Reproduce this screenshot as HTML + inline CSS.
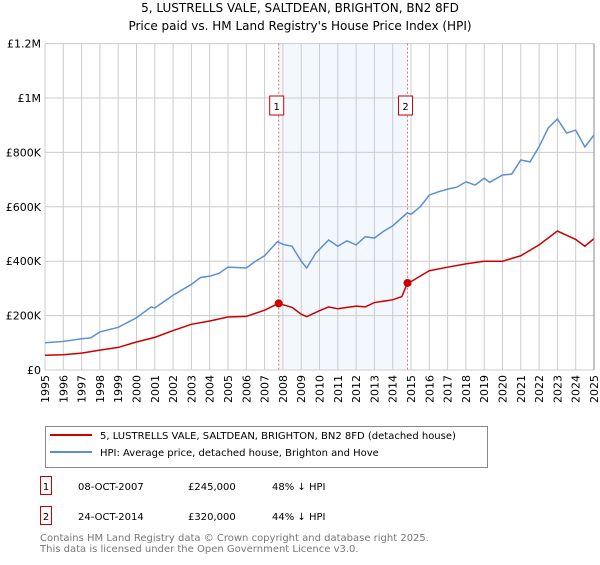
<!DOCTYPE html>
<html><head><meta charset="utf-8"><style>
body{margin:0;background:#fff;font-family:"Liberation Sans","DejaVu Sans",sans-serif;}
svg text{font-family:"DejaVu Sans","Liberation Sans",sans-serif;}
</style></head><body>
<svg id="c" width="600" height="560" xmlns="http://www.w3.org/2000/svg">
<text x="300" y="12" text-anchor="middle" font-size="12">5, LUSTRELLS VALE, SALTDEAN, BRIGHTON, BN2 8FD</text>
<text x="300" y="30" text-anchor="middle" font-size="12">Price paid vs. HM Land Registry's House Price Index (HPI)</text>
<g id="plot"></g>
<g>
<rect x="45.5" y="426.5" width="442" height="41" fill="#fff" stroke="#888"/>
<line x1="50" y1="435" x2="92" y2="435" stroke="#cc0000" stroke-width="2"/>
<text x="100" y="439" font-size="10">5, LUSTRELLS VALE, SALTDEAN, BRIGHTON, BN2 8FD (detached house)</text>
<line x1="50" y1="452" x2="92" y2="452" stroke="#5b8fd4" stroke-width="2"/>
<text x="100" y="456" font-size="10">HPI: Average price, detached house, Brighton and Hove</text>
</g>
<g font-size="10">
<rect x="40.5" y="476.5" width="11" height="18" fill="#fff" stroke="#cc0000"/><text x="46" y="490" text-anchor="middle">1</text>
<text x="78" y="490">08-OCT-2007</text><text x="188" y="490">£245,000</text><text x="272" y="490">48% ↓ HPI</text>
<rect x="40.5" y="506.5" width="11" height="18" fill="#fff" stroke="#cc0000"/><text x="46" y="520" text-anchor="middle">2</text>
<text x="78" y="520">24-OCT-2014</text><text x="188" y="520">£320,000</text><text x="272" y="520">44% ↓ HPI</text>
</g>
<text x="40" y="541" font-size="10" fill="#777">Contains HM Land Registry data © Crown copyright and database right 2025.</text>
<text x="40" y="552" font-size="10" fill="#777">This data is licensed under the Open Government Licence v3.0.</text>
</svg>
<script>
const hpiYears=[1995,1996,1997,1997.5,1998,1999,2000,2000.8,2001,2002,2003,2003.5,2004,2004.5,2005,2006,2006.5,2007,2007.7,2008,2008.5,2009,2009.3,2009.8,2010.5,2011,2011.5,2012,2012.5,2013,2013.5,2014,2014.8,2015,2015.5,2016,2016.5,2017,2017.5,2018,2018.5,2019,2019.3,2020,2020.5,2021,2021.5,2022,2022.5,2023,2023.5,2024,2024.5,2025];
const hpiValues=[100000,105000,115000,118000,140000,157000,192000,232000,228000,275000,315000,340000,345000,355000,378000,375000,400000,420000,472000,462000,455000,400000,375000,430000,478000,455000,475000,460000,490000,485000,510000,530000,578000,572000,600000,643000,655000,665000,672000,692000,680000,705000,690000,717000,720000,772000,765000,821000,890000,923000,871000,882000,820000,864000];
const ppYears=[1995,1996,1997,1998,1999,2000,2001,2002,2003,2004,2005,2006,2007,2007.77,2008,2008.5,2009,2009.3,2010,2010.5,2011,2012,2012.5,2013,2014,2014.5,2014.81,2015,2016,2017,2018,2019,2020,2021,2022,2023,2024,2024.5,2025];
const ppValues=[54000,56000,62000,73000,83000,103000,120000,145000,168000,180000,195000,197000,220000,245000,240000,230000,205000,196000,218000,232000,225000,235000,232000,248000,258000,270000,320000,325000,365000,378000,390000,400000,400000,420000,460000,511000,480000,455000,483000];
const saleYears=[2007.77,2014.81];
const saleValues=[245000,320000];
const saleLabels=["1","2"];
const yTicks=[0,200000,400000,600000,800000,1000000,1200000];
const yTickLabels=["£0","£200K","£400K","£600K","£800K","£1M","£1.2M"];
const xTicks=[1995,1996,1997,1998,1999,2000,2001,2002,2003,2004,2005,2006,2007,2008,2009,2010,2011,2012,2013,2014,2015,2016,2017,2018,2019,2020,2021,2022,2023,2024,2025];

const X0=45,X1=594,Y0=370,Y1=43.6;
const xs=v=>X0+(v-1995)/30*(X1-X0);
const ys=v=>Y0-v/1200000*(Y0-Y1);
const NS="http://www.w3.org/2000/svg";
const g=document.getElementById('plot');
function mk(t,a){const e=document.createElementNS(NS,t);for(const k in a)e.setAttribute(k,a[k]);g.appendChild(e);return e;}
let r=mk('rect',{x:xs(saleYears[0]),y:Y1,width:xs(saleYears[1])-xs(saleYears[0]),height:Y0-Y1,fill:'#eef3fd',opacity:0.7});


xTicks.forEach(t=>{
 const l=mk('line',{x1:xs(t),x2:xs(t),y1:Y1,y2:Y0,stroke:'#ccc','stroke-width':1});
 
 
 const tx=mk('text',{x:0,y:0,'font-size':11,'text-anchor':'end',transform:`translate(${xs(t)+4},${Y0+5}) rotate(-90)`});
 tx.textContent=t;
 
 
});
yTicks.forEach((t,i)=>{
 const l=mk('line',{x1:X0,x2:X1,y1:ys(t),y2:ys(t),stroke:'#ccc','stroke-width':1});
 
 
 const tx=mk('text',{x:X0-4,y:ys(t)+4,'font-size':11,'text-anchor':'end'});
 tx.textContent=yTickLabels[i];
 
 
});
saleYears.forEach((s,i)=>{
 const l=mk('line',{x1:xs(s),x2:xs(s),y1:Y1,y2:Y0,stroke:'#f07070','stroke-dasharray':'2,2','stroke-width':1});
 
 
 const b=mk('rect',{x:xs(s)-9,y:96,width:14,height:19,fill:'#fff',stroke:'#cc0000'});
 
 
 const t=mk('text',{x:xs(s)-2,y:110,'font-size':10,'text-anchor':'middle'});
 t.textContent=saleLabels[i];
 
 
});
const hp=mk('polyline',{points:hpiYears.map((y,i)=>xs(y)+','+ys(hpiValues[i])).join(' '),fill:'none',stroke:'#5b8fd4','stroke-width':1.5});


const pp=mk('polyline',{points:ppYears.map((y,i)=>xs(y)+','+ys(ppValues[i])).join(' '),fill:'none',stroke:'#cc0000','stroke-width':1.5});


saleYears.forEach((s,i)=>{
 const c=mk('circle',{cx:xs(s),cy:ys(saleValues[i]),r:4,fill:'#cc0000'});
 
 
});
const ax=mk('line',{x1:X1,x2:X1,y1:Y1,y2:Y0,stroke:'#888'});


</script>
</body></html>
